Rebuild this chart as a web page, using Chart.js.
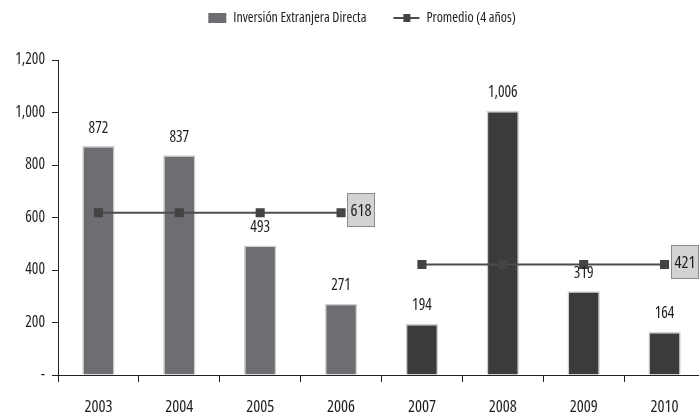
<!DOCTYPE html>
<html><head><meta charset="utf-8">
<script src="https://cdn.jsdelivr.net/npm/chart.js@4/dist/chart.umd.min.js"></script>
<style>html,body{margin:0;padding:0;background:#fff;overflow:hidden;width:699px;height:415px}
#wrap{width:712px;height:415px;position:relative}</style>
</head><body><div id="wrap"><canvas id="c" width="712" height="415"></canvas></div>
<script>
const categories = ['2003','2004','2005','2006','2007','2008','2009','2010'];
const ied = [872, 837, 493, 271, 194, 1006, 319, 164];
const promedio1 = [618, 618, 618, 618, null, null, null, null];
const promedio2 = [null, null, null, null, 421, 421, 421, 421];
const yTicks = [0, 200, 400, 600, 800, 1000, 1200];
const legendLabels = ['Inversión Extranjera Directa', 'Promedio (4 años)'];

const FAM = '"Open Sans",sans-serif';
const cf = size => 'condensed ' + size + 'px ' + FAM;
const barColors = ied.map((v,i)=> i<4 ? '#6d6e71' : '#3b3b3d');
const LINE = '#4d4d4f';

const labelPlugin = {
  id:'labels',
  afterDatasetsDraw(chart){
    const ctx = chart.ctx;
    ctx.save();
    const bm = chart.getDatasetMeta(0);
    ctx.font = cf(15.5);
    ctx.fillStyle = '#1e1e1e';
    ctx.textAlign = 'center';
    ctx.textBaseline = 'middle';
    bm.data.forEach((el,i)=>{
      ctx.fillText(ied[i].toLocaleString('en-US'), el.x, el.y - 18);
    });
    [1,2].forEach(di=>{
      const meta = chart.getDatasetMeta(di);
      const data = chart.data.datasets[di].data;
      let last = -1;
      data.forEach((v,i)=>{ if(v!==null) last=i; });
      const el = meta.data[last];
      const txt = String(data[last]);
      const w = 27, h = 33;
      const x0 = Math.round(el.x + 6) + 0.5, y0 = Math.round(el.y - h/2 - 3) + 0.5;
      ctx.fillStyle = '#d3d3d5';
      ctx.fillRect(x0, y0, w, h);
      ctx.strokeStyle = '#8a8a8a';
      ctx.lineWidth = 1;
      ctx.strokeRect(x0, y0, w, h);
      ctx.fillStyle = '#1e1e1e';
      ctx.font = cf(16.5);
      ctx.fillText(txt, x0 + w/2, y0 + h/2 + 1);
    });
    ctx.font = cf(14);
    ctx.textAlign = 'left';
    const t1 = ctx.measureText(legendLabels[0]).width;
    const t2 = ctx.measureText(legendLabels[1]).width;
    const total = 18 + 7 + t1 + 27 + 26 + 7 + t2;
    let x = 362 - total/2;
    const y = 18;
    ctx.fillStyle = '#6d6e71';
    ctx.fillRect(x, y-5, 18, 10);
    x += 25;
    ctx.fillStyle = '#1e1e1e';
    ctx.fillText(legendLabels[0], x, y);
    x += t1 + 27;
    ctx.strokeStyle = LINE; ctx.lineWidth = 2;
    ctx.beginPath(); ctx.moveTo(x, y); ctx.lineTo(x+26, y); ctx.stroke();
    ctx.fillStyle = '#444';
    ctx.fillRect(x+10, y-4, 7, 8);
    x += 33;
    ctx.fillStyle = '#1e1e1e';
    ctx.fillText(legendLabels[1], x, y);
    ctx.restore();
  }
};

new Chart(document.getElementById('c'), {
  data:{
    labels: categories,
    datasets:[
      {type:'bar', label:legendLabels[0], data:ied, backgroundColor:barColors,
       borderColor:'#d0d0d0', borderWidth:1.5, barPercentage:0.4, categoryPercentage:1, order:2},
      {type:'line', label:legendLabels[1], data:promedio1, borderColor:LINE, borderWidth:2,
       pointStyle:'rect', pointRadius:5, pointBackgroundColor:'#444', pointBorderColor:'#444', order:1, spanGaps:false},
      {type:'line', label:legendLabels[1], data:promedio2, borderColor:LINE, borderWidth:2,
       pointStyle:'rect', pointRadius:5, pointBackgroundColor:'#444', pointBorderColor:'#444', order:1, spanGaps:false}
    ]
  },
  options:{
    responsive:false, animation:false,
    layout:{padding:{top:60, right:3, left:0, bottom:0}},
    plugins:{legend:{display:false}, tooltip:{enabled:false}},
    scales:{
      x:{
        offset:true,
        grid:{offset:true, drawOnChartArea:false, drawTicks:true, tickLength:7, color:'#222'},
        border:{color:'#222', width:1},
        ticks:{font:{family:FAM, weight:'condensed', size:16.5}, color:'#1e1e1e', padding:15},
        afterFit(s){ s.height = 40; }
      },
      y:{
        min:0, max:1200,
        afterBuildTicks(s){ s.ticks = yTicks.map(v=>({value:v})); },
        grid:{drawOnChartArea:false, drawTicks:true, tickLength:6, color:'#222'},
        border:{color:'#222', width:1},
        ticks:{font:{family:FAM, weight:'condensed', size:15.5}, color:'#1e1e1e', padding:7,
          callback:v=> v===0 ? '-' : v.toLocaleString('en-US')},
        afterFit(s){ s.width = 58; }
      }
    }
  },
  plugins:[labelPlugin]
});
</script></body></html>
